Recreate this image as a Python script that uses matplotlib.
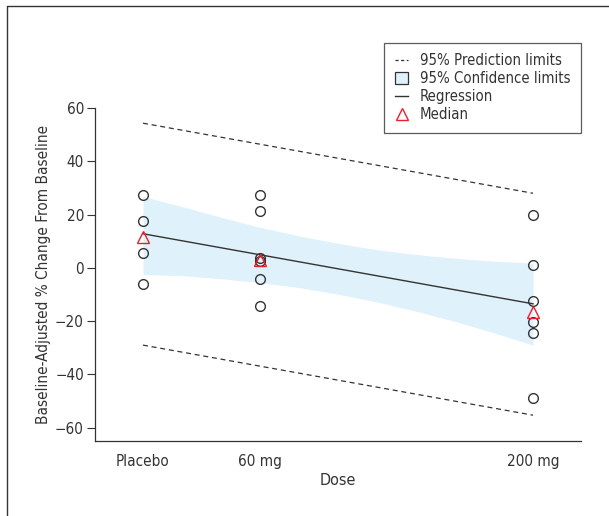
import matplotlib
matplotlib.use("Agg")
import matplotlib.pyplot as plt
from matplotlib.lines import Line2D
from matplotlib.patches import Patch
from matplotlib import font_manager

# use a condensed face if one is installed, otherwise Liberation Sans
condensed = [f.name for f in font_manager.fontManager.ttflist
             if str(f.stretch) in ('condensed', 'semi-condensed', '500', '600') or 'Narrow' in f.name]
if condensed:
    plt.rcParams['font.family'] = [condensed[0], 'Liberation Sans', 'DejaVu Sans']
    plt.rcParams['font.stretch'] = 'condensed'
    fs, lfs = 11, 10.7
else:
    plt.rcParams['font.family'] = ['Liberation Sans', 'DejaVu Sans']
    fs, lfs = 10.5, 10
plt.rcParams['axes.unicode_minus'] = True

# data
dose_ticks = [0, 60, 200]
dose_labels = ['Placebo', '60 mg', '200 mg']

placebo_vals = [27.4, 17.6, 5.7, -5.9]
mg60_vals = [27.4, 21.3, 3.6, 2.6, -4.0, -14.5]
mg200_vals = [19.9, 0.9, -12.4, -20.4, -24.3, -48.9]

median_dose = [0, 60, 200]
median_vals = [11.5, 2.8, -16.4]

reg_dose = [0, 200]
reg_vals = [12.8, -13.5]

ci_dose = [0, 20, 40, 60, 80, 100, 120, 140, 160, 180, 200]
ci_upper = [26.8, 23.0, 19.0, 15.2, 12.0, 9.2, 6.8, 5.0, 3.6, 2.5, 1.8]
ci_lower = [-2.5, -2.9, -4.1, -5.5, -7.4, -9.9, -12.8, -16.3, -20.1, -24.4, -29.0]

pi_dose = [0, 200]
pi_upper = [54.3, 28.0]
pi_lower = [-29.0, -55.3]

dark = '#333333'
red = '#e8202e'
band = '#dff1fb'

fig = plt.figure(figsize=(6.09, 5.16), dpi=100)
ax = fig.add_axes([0.156, 0.1453, 0.798, 0.6454])

ax.fill_between(ci_dose, ci_lower, ci_upper, color=band, lw=0)
ax.plot(pi_dose, pi_upper, ls=(0, (4, 3)), color=dark, lw=0.9)
ax.plot(pi_dose, pi_lower, ls=(0, (4, 3)), color=dark, lw=0.9)
ax.plot(reg_dose, reg_vals, color=dark, lw=1.0)

for d, vals in zip(dose_ticks, [placebo_vals, mg60_vals, mg200_vals]):
    ax.plot([d] * len(vals), vals, 'o', ms=7, mfc='none', mec=dark, mew=1.0)
ax.plot(median_dose, median_vals, '^', ms=8, mfc='none', mec=red, mew=1.0)

ax.set_xlim(-24.6, 224.6)
ax.set_ylim(-65, 60)
ax.set_yticks(range(-60, 61, 20))
ax.set_xticks(dose_ticks)
ax.set_xticklabels(dose_labels)
ax.tick_params(axis='x', length=0, pad=9, labelsize=fs, colors=dark)
ax.tick_params(axis='y', length=6, width=0.8, pad=2, labelsize=fs, colors=dark)
ax.spines['top'].set_visible(False)
ax.spines['right'].set_visible(False)
for s in ['left', 'bottom']:
    ax.spines[s].set_color(dark)
    ax.spines[s].set_linewidth(0.9)
ax.set_xlabel('Dose', fontsize=fs + 0.5, color=dark, labelpad=3)
ax.set_ylabel('Baseline-Adjusted % Change From Baseline', fontsize=fs, color=dark, labelpad=3)

handles = [
    Line2D([], [], ls=(0, (2.5, 2)), color=dark, lw=0.9),
    Patch(facecolor=band, edgecolor=dark, lw=0.9),
    Line2D([], [], color=dark, lw=1.0),
    Line2D([], [], marker='^', ls='none', ms=8, mfc='none', mec=red),
]
labels = ['95% Prediction limits', '95% Confidence limits', 'Regression', 'Median']
leg = fig.legend(handles, labels, loc='upper right', bbox_to_anchor=(0.954, 0.917),
                 fontsize=lfs, frameon=True, fancybox=False, handlelength=0.9,
                 handleheight=0.9, handletextpad=0.8, labelspacing=0.2,
                 borderpad=0.7, borderaxespad=0)
leg.get_frame().set_edgecolor(dark)
leg.get_frame().set_linewidth(0.9)
for t in leg.get_texts():
    t.set_color(dark)

# outer frame
fig.add_artist(Line2D([7 / 609, 7 / 609, 1], [0, 1 - 6 / 516, 1 - 6 / 516],
                      color=dark, lw=1.0, transform=fig.transFigure))

fig.savefig('out.png', dpi=100)
